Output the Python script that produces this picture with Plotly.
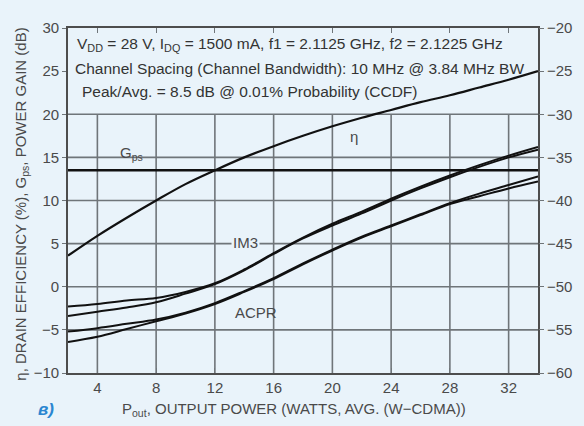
import plotly.graph_objects as go

# Output power sweep (W, avg.)
pout = [2, 4, 6, 8, 10, 12, 14, 16, 18, 20, 22, 24, 26, 28, 30, 32, 34]

# Drain efficiency (%) and power gain (dB) on the left axis
eta = [3.6, 5.9, 8.0, 10.0, 11.9, 13.5, 15.0, 16.3, 17.5, 18.6, 19.6, 20.5, 21.4, 22.2, 23.1, 24.0, 25.0]
gps = [13.5, 13.5, 13.5, 13.5, 13.5, 13.5, 13.5, 13.5, 13.5, 13.5, 13.5, 13.5, 13.5, 13.5, 13.5, 13.5, 13.5]

# Intermodulation and adjacent channel power (dBc) on the right axis
im3_a = [-52.3, -52.0, -51.6, -51.3, -50.6, -49.6, -48.0, -46.1, -44.3, -42.7, -41.3, -39.8, -38.4, -37.1, -35.9, -34.8, -33.8]
im3_b = [-53.4, -52.9, -52.4, -51.8, -50.8, -49.7, -48.1, -46.2, -44.4, -42.9, -41.5, -40.0, -38.6, -37.3, -36.1, -35.0, -34.1]
acpr_a = [-55.2, -54.8, -54.3, -53.8, -53.0, -51.9, -50.5, -49.0, -47.3, -45.7, -44.2, -42.9, -41.6, -40.3, -39.2, -38.2, -37.2]
acpr_b = [-56.4, -55.8, -54.9, -54.0, -53.1, -52.0, -50.6, -49.1, -47.4, -45.8, -44.3, -43.0, -41.7, -40.4, -39.5, -38.6, -37.8]

x_ticks = [4, 8, 12, 16, 20, 24, 28, 32]
y_ticks = [-10, -5, 0, 5, 10, 15, 20, 25, 30]
y_grid = [-5, 0, 5, 10, 15, 20]
y2_ticks = [-60, -55, -50, -45, -40, -35, -30, -25, -20]

BG = "#e9f3fa"
INK = "#111111"
GRID = "#6f7579"
TXT = "#4a4a4a"
FONT = "Liberation Sans, Arial, sans-serif"
FS = 15

fig = go.Figure()

fig.add_trace(go.Scatter(x=pout, y=eta, mode="lines",
                         line=dict(shape="spline", color=INK, width=2.2)))
fig.add_trace(go.Scatter(x=pout, y=gps, mode="lines", line=dict(color=INK, width=2.6)))
for series in (im3_a, im3_b, acpr_a, acpr_b):
    fig.add_trace(go.Scatter(x=pout, y=series, mode="lines", yaxis="y2",
                             line=dict(shape="spline", color=INK, width=2.0)))

# grid confined to the lower part of the panel, leaving room for the conditions text
shapes = []
for xv in x_ticks:
    shapes.append(dict(type="line", xref="x", yref="y", x0=xv, x1=xv, y0=-10, y1=20,
                       line=dict(color=GRID, width=1.6), layer="below"))
for yv in y_grid:
    shapes.append(dict(type="line", xref="x", yref="y", x0=2, x1=34, y0=yv, y1=yv,
                       line=dict(color=GRID, width=1.6), layer="below"))

note = dict(size=15.5, color="#333", family=FONT)
label = dict(size=FS, color=TXT, family=FONT)
annotations = [
    dict(text="V<sub>DD</sub> = 28 V, I<sub>DQ</sub> = 1500 mA, f1 = 2.1125 GHz, f2 = 2.1225 GHz",
         xref="paper", yref="paper", x=0.014, y=0.951, xanchor="left", yanchor="middle",
         showarrow=False, font=note),
    dict(text="Channel Spacing (Channel Bandwidth): 10 MHz @ 3.84 MHz BW",
         xref="paper", yref="paper", x=0.010, y=0.884, xanchor="left", yanchor="middle",
         showarrow=False, font=note),
    dict(text="Peak/Avg. = 8.5 dB @ 0.01% Probability (CCDF)",
         xref="paper", yref="paper", x=0.025, y=0.817, xanchor="left", yanchor="middle",
         showarrow=False, font=note),
    dict(text="G<sub>ps</sub>", x=6.3, y=15.4, xref="x", yref="y", showarrow=False, font=label),
    dict(text="η", x=21.5, y=17.4, xref="x", yref="y", showarrow=False, font=label),
    dict(text="IM3", x=14.1, y=5.1, xref="x", yref="y", showarrow=False, bgcolor=BG, font=label),
    dict(text="ACPR", x=14.8, y=-3.0, xref="x", yref="y", showarrow=False, font=label),
    dict(text="η, DRAIN EFFICIENCY (%), G<sub>ps</sub>, POWER GAIN (dB)",
         xref="paper", yref="paper", x=(19 - 68) / 487, y=(373 - 204) / 345,
         xanchor="center", yanchor="middle", textangle=-90, showarrow=False, font=label),
    dict(text="P<sub>out</sub>, OUTPUT POWER (WATTS, AVG. (W−CDMA))",
         xref="paper", yref="paper", x=(302 - 68) / 487, y=(373 - 410) / 345,
         xanchor="center", yanchor="middle", showarrow=False, font=label),
    dict(text="<b><i>в)</i></b>", xref="paper", yref="paper",
         x=(45 - 68) / 487, y=(373 - 409) / 345, xanchor="center", yanchor="middle",
         showarrow=False, font=dict(size=17, color="#2a86d1", family=FONT)),
]

fig.update_layout(
    width=584, height=426,
    margin=dict(l=68, r=29, t=28, b=53),
    paper_bgcolor=BG, plot_bgcolor=BG,
    showlegend=False,
    shapes=shapes, annotations=annotations,
    font=dict(family=FONT, color=TXT, size=FS),
    xaxis=dict(range=[2, 34], tickvals=x_ticks, showgrid=False, zeroline=False,
               showline=True, linecolor="#4d4d4d", linewidth=1.8, mirror="ticks",
               ticks="inside", ticklen=5, tickcolor=GRID, tickwidth=1.4,
               tickfont=dict(size=FS, color=TXT)),
    yaxis=dict(range=[-10, 30], tickvals=y_ticks, showgrid=False, zeroline=False,
               showline=True, linecolor="#4d4d4d", linewidth=1.8, mirror=True,
               ticks="outside", ticklen=4, tickcolor=GRID, tickwidth=1.4,
               tickfont=dict(size=FS, color=TXT)),
    yaxis2=dict(range=[-60, -20], tickvals=y2_ticks, overlaying="y", side="right",
                showgrid=False, zeroline=False, showline=False,
                ticks="outside", ticklen=5, tickcolor=GRID, tickwidth=1.4,
                tickfont=dict(size=FS, color=TXT)),
)

fig.write_html("out.html")
